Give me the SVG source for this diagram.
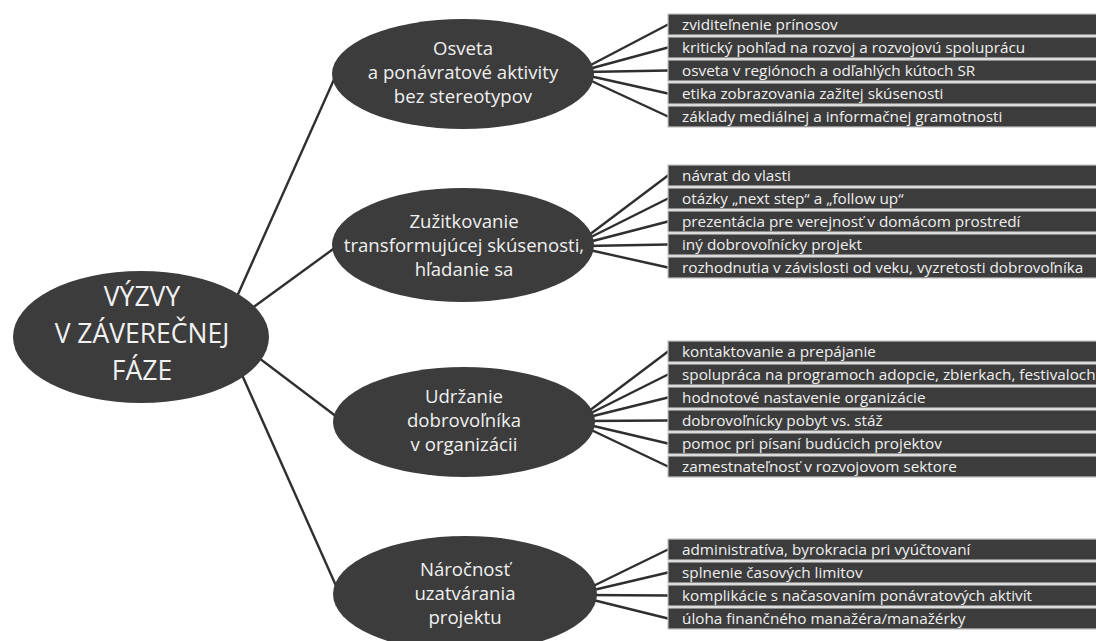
<svg xmlns="http://www.w3.org/2000/svg" width="1096" height="641" viewBox="0 0 1096 641">
<style>
.bg{fill:#ffffff}
.node{fill:#3c3c3c}
.ctext{font-family:"Open Sans","Noto Sans",sans-serif;font-size:26.5px;fill:#f2f2f2;text-anchor:middle}
.etext{font-family:"Open Sans","Noto Sans",sans-serif;font-size:18.6px;fill:#f0f0f0;text-anchor:middle}
.box{fill:#3c3c3c;stroke:#c4c4c4;stroke-width:1.2}
.btext{font-family:"Open Sans","Noto Sans",sans-serif;font-size:15.3px;fill:#f0f0f0}
.conn{stroke:#2f2f2f;stroke-width:2.4;fill:none;stroke-linecap:round}
</style>
<rect class="bg" x="0" y="0" width="1096" height="641"/>
<g id="connectors">
  <line class="conn" x1="222" y1="330" x2="336" y2="75"/>
  <line class="conn" x1="222" y1="330" x2="336" y2="247"/>
  <line class="conn" x1="222" y1="330" x2="337" y2="417"/>
  <line class="conn" x1="222" y1="330" x2="337" y2="588"/>
  <line class="conn" x1="585" y1="68" x2="668" y2="24.5"/>
  <line class="conn" x1="585" y1="70" x2="668" y2="47.5"/>
  <line class="conn" x1="585" y1="72" x2="668" y2="70.5"/>
  <line class="conn" x1="585" y1="75" x2="668" y2="93.5"/>
  <line class="conn" x1="585" y1="78" x2="668" y2="116.5"/>
  <line class="conn" x1="585" y1="238" x2="668" y2="175.5"/>
  <line class="conn" x1="585" y1="240" x2="668" y2="198.5"/>
  <line class="conn" x1="585" y1="243" x2="668" y2="221.5"/>
  <line class="conn" x1="585" y1="246" x2="668" y2="244.5"/>
  <line class="conn" x1="585" y1="249" x2="668" y2="267.5"/>
  <line class="conn" x1="585" y1="414" x2="668" y2="351.5"/>
  <line class="conn" x1="585" y1="416" x2="668" y2="374.5"/>
  <line class="conn" x1="585" y1="418" x2="668" y2="397.5"/>
  <line class="conn" x1="585" y1="421" x2="668" y2="420.5"/>
  <line class="conn" x1="585" y1="424" x2="668" y2="443.5"/>
  <line class="conn" x1="585" y1="427" x2="668" y2="466.5"/>
  <line class="conn" x1="585" y1="590" x2="668" y2="549.5"/>
  <line class="conn" x1="585" y1="592" x2="668" y2="572.5"/>
  <line class="conn" x1="585" y1="595" x2="668" y2="595.5"/>
  <line class="conn" x1="585" y1="598" x2="668" y2="618.5"/>
</g>
<g id="center">
  <ellipse class="node" cx="141" cy="337" rx="128" ry="66"/>
  <text class="ctext" x="142" y="306">VÝZVY</text>
  <text class="ctext" x="142" y="343">V ZÁVEREČNEJ</text>
  <text class="ctext" x="142" y="380">FÁZE</text>
</g>
<g id="node-osveta">
  <ellipse class="node" cx="463" cy="74" rx="131" ry="55"/>
  <text class="etext" x="463" y="55">Osveta</text>
  <text class="etext" x="463" y="79">a ponávratové aktivity</text>
  <text class="etext" x="463" y="103">bez stereotypov</text>
</g>
<g id="node-zuzitkovanie">
  <ellipse class="node" cx="463" cy="245" rx="131" ry="57"/>
  <text class="etext" x="464" y="228">Zužitkovanie</text>
  <text class="etext" x="464" y="252">transformujúcej skúsenosti,</text>
  <text class="etext" x="464" y="276">hľadanie sa</text>
</g>
<g id="node-udrzanie">
  <ellipse class="node" cx="464" cy="422" rx="131" ry="55"/>
  <text class="etext" x="464" y="403">Udržanie</text>
  <text class="etext" x="464" y="427">dobrovoľníka</text>
  <text class="etext" x="464" y="451">v organizácii</text>
</g>
<g id="node-narocnost">
  <ellipse class="node" cx="465" cy="594" rx="132" ry="58"/>
  <text class="etext" x="465" y="576">Náročnosť</text>
  <text class="etext" x="465" y="600">uzatvárania</text>
  <text class="etext" x="465" y="624">projektu</text>
</g>
<g id="list-osveta">
  <rect class="box" x="668" y="14" width="440" height="21"/>
  <rect class="box" x="668" y="37" width="440" height="21"/>
  <rect class="box" x="668" y="60" width="440" height="21"/>
  <rect class="box" x="668" y="83" width="440" height="21"/>
  <rect class="box" x="668" y="106" width="440" height="21"/>
  <text class="btext" x="682" y="30">zviditeľnenie prínosov</text>
  <text class="btext" x="682" y="53">kritický pohľad na rozvoj a rozvojovú spoluprácu</text>
  <text class="btext" x="682" y="76">osveta v regiónoch a odľahlých kútoch SR</text>
  <text class="btext" x="682" y="99">etika zobrazovania zažitej skúsenosti</text>
  <text class="btext" x="682" y="122">základy mediálnej a informačnej gramotnosti</text>
</g>
<g id="list-zuzitkovanie">
  <rect class="box" x="668" y="165" width="440" height="21"/>
  <rect class="box" x="668" y="188" width="440" height="21"/>
  <rect class="box" x="668" y="211" width="440" height="21"/>
  <rect class="box" x="668" y="234" width="440" height="21"/>
  <rect class="box" x="668" y="257" width="440" height="21"/>
  <text class="btext" x="682" y="181">návrat do vlasti</text>
  <text class="btext" x="682" y="204">otázky „next step“ a „follow up“</text>
  <text class="btext" x="682" y="227">prezentácia pre verejnosť v domácom prostredí</text>
  <text class="btext" x="682" y="250">iný dobrovoľnícky projekt</text>
  <text class="btext" x="682" y="273">rozhodnutia v závislosti od veku, vyzretosti dobrovoľníka</text>
</g>
<g id="list-udrzanie">
  <rect class="box" x="668" y="341" width="440" height="21"/>
  <rect class="box" x="668" y="364" width="440" height="21"/>
  <rect class="box" x="668" y="387" width="440" height="21"/>
  <rect class="box" x="668" y="410" width="440" height="21"/>
  <rect class="box" x="668" y="433" width="440" height="21"/>
  <rect class="box" x="668" y="456" width="440" height="21"/>
  <text class="btext" x="682" y="357">kontaktovanie a prepájanie</text>
  <text class="btext" x="682" y="380">spolupráca na programoch adopcie, zbierkach, festivaloch</text>
  <text class="btext" x="682" y="403">hodnotové nastavenie organizácie</text>
  <text class="btext" x="682" y="426">dobrovoľnícky pobyt vs. stáž</text>
  <text class="btext" x="682" y="449">pomoc pri písaní budúcich projektov</text>
  <text class="btext" x="682" y="472">zamestnateľnosť v rozvojovom sektore</text>
</g>
<g id="list-narocnost">
  <rect class="box" x="668" y="539" width="440" height="21"/>
  <rect class="box" x="668" y="562" width="440" height="21"/>
  <rect class="box" x="668" y="585" width="440" height="21"/>
  <rect class="box" x="668" y="608" width="440" height="21"/>
  <text class="btext" x="682" y="555">administratíva, byrokracia pri vyúčtovaní</text>
  <text class="btext" x="682" y="578">splnenie časových limitov</text>
  <text class="btext" x="682" y="601">komplikácie s načasovaním ponávratových aktivít</text>
  <text class="btext" x="682" y="624">úloha finančného manažéra/manažérky</text>
</g>
</svg>
